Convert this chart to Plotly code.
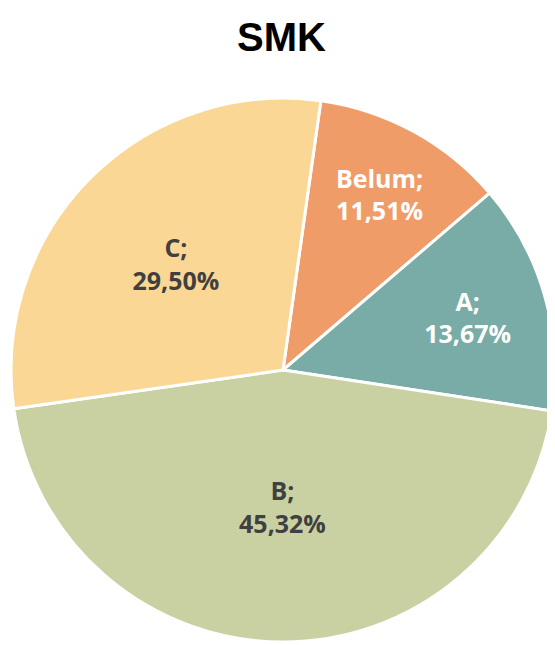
import plotly.graph_objects as go

# slice data, clockwise from the top
labels = ['Belum', 'A', 'B', 'C']
values = [11.51, 13.67, 45.32, 29.50]
colors = ['#F09C69', '#79ABA7', '#C9D1A3', '#FBD795']
text_colors = ['white', 'white', '#404040', '#404040']

fig = go.Figure()
fig.add_trace(go.Pie(
    labels=labels,
    values=values,
    sort=False,
    direction='clockwise',
    rotation=8,
    marker=dict(colors=colors, line=dict(color='white', width=3)),
    texttemplate='<b>%{label};<br>%{percent:.2%}</b>',
    textposition='inside',
    insidetextorientation='horizontal',
    textfont=dict(family='Open Sans', size=25, color=text_colors),
    hoverinfo='label+percent',
    domain=dict(x=[0.0055, 1.0], y=[0.0047, 0.8587]),
    showlegend=False,
))

# page body adds an 8px margin, so the figure is 8px smaller than the window
fig.update_layout(
    title=dict(text='<b>SMK</b>', x=0.5, xanchor='center', y=0.9545, yanchor='middle',
               font=dict(family='Liberation Sans', size=40, color='black')),
    separators=',.',
    width=547,
    height=637,
    margin=dict(l=0, r=0, t=0, b=0),
    paper_bgcolor='white',
)

fig.write_html('out.html')
